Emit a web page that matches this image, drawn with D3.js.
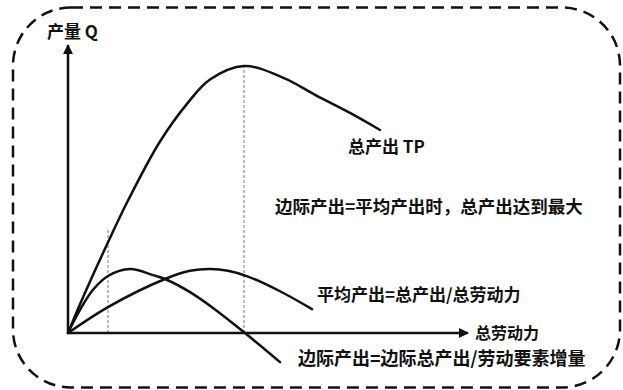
<!DOCTYPE html>
<html>
<head>
<meta charset="utf-8">
<script src="https://cdn.jsdelivr.net/npm/d3@7"></script>
<style>
  body { margin: 0; background: #fff; }
  text { font-family: "Noto Sans CJK SC", "Noto Sans", sans-serif; font-weight: bold; fill: #111; }
</style>
</head>
<body>
<svg id="chart"></svg>
<script>
	var svgWidth = 623;
	var svgHeight = 390;

	// 劳动投入 (x) 와 각 곡선 값 (y), 0~100 단위
	var tpLabor = [0, 3, 10, 15, 23, 30, 35.5, 44, 54, 62, 70.5, 78];
	var tpValue = [0, 10, 31.5, 46, 66.5, 80, 88, 92.7, 88.5, 82.5, 76.4, 70.5];

	var apLabor = [0, 10, 24.25, 30.5, 35.5, 40, 45, 53, 61];
	var apValue = [0, 9, 18.75, 21.6, 22.2, 21.6, 19.6, 14.5, 8.3];

	var mpLabor = [0, 3, 6.25, 10, 15.5, 21.25, 24.25, 30.5, 36.25, 44.25, 53];
	var mpValue = [0, 8, 15, 19.8, 22.2, 20.1, 18.75, 14.2, 8.7, 0, -10.1];

	// 보조 점선 (x 위치, 위쪽 끝 값)
	var guideLabor = [10, 44];
	var guideTop = [36.5, 92.7];

	var svg = d3.select("#chart")
		.attr("width", svgWidth)
		.attr("height", svgHeight);

	var xScale = d3.scaleLinear().domain([0, 100]).range([68, 468]);
	var yScale = d3.scaleLinear().domain([0, 100]).range([333, 45]);

	// 바깥 점선 테두리
	svg.append("rect")
		.attr("x", 13).attr("y", 7.5)
		.attr("width", 607).attr("height", 380)
		.attr("rx", 58).attr("ry", 58)
		.attr("fill", "none")
		.attr("stroke", "#111")
		.attr("stroke-width", 2.5)
		.attr("stroke-dasharray", "12,7");

	// 화살표
	var defs = svg.append("defs");
	defs.append("marker")
		.attr("id", "arrow")
		.attr("viewBox", "0 0 10 10")
		.attr("refX", 9).attr("refY", 5)
		.attr("markerWidth", 10).attr("markerHeight", 10)
		.attr("markerUnits", "userSpaceOnUse")
		.attr("orient", "auto")
		.append("path")
		.attr("d", "M0,0 L10,5 L0,10 Z")
		.attr("fill", "#111");

	// 보조 점선
	svg.selectAll(".guide")
		.data(guideLabor)
		.enter()
		.append("line")
		.attr("class", "guide")
		.attr("x1", function(d) { return xScale(d); })
		.attr("x2", function(d) { return xScale(d); })
		.attr("y1", yScale(0))
		.attr("y2", function(d, i) { return yScale(guideTop[i]); })
		.attr("stroke", "#777")
		.attr("stroke-width", 1)
		.attr("stroke-dasharray", "3,2");

	// 축
	svg.append("line")
		.attr("x1", xScale(0)).attr("y1", yScale(0))
		.attr("x2", xScale(0)).attr("y2", yScale(100))
		.attr("stroke", "#111").attr("stroke-width", 2.5)
		.attr("marker-end", "url(#arrow)");

	svg.append("line")
		.attr("x1", xScale(0)).attr("y1", yScale(0))
		.attr("x2", xScale(100)).attr("y2", yScale(0))
		.attr("stroke", "#111").attr("stroke-width", 2.5)
		.attr("marker-end", "url(#arrow)");

	var line = d3.line()
		.x(function(d) { return xScale(d[0]); })
		.y(function(d) { return yScale(d[1]); })
		.curve(d3.curveCatmullRom.alpha(0.5));

	var series = [
		d3.zip(tpLabor, tpValue),
		d3.zip(apLabor, apValue),
		d3.zip(mpLabor, mpValue)
	];

	svg.selectAll(".curve")
		.data(series)
		.enter()
		.append("path")
		.attr("class", "curve")
		.attr("d", line)
		.attr("fill", "none")
		.attr("stroke", "#111")
		.attr("stroke-width", 2.5)
		.attr("stroke-linecap", "round");

	// 라벨
	var labels = [
		{ text: "产量 Q", x: 47, y: 30, size: 17 },
		{ text: "总产出 TP", x: 348, y: 145, size: 17 },
		{ text: "边际产出=平均产出时，总产出达到最大", x: 275, y: 205, size: 17.5 },
		{ text: "平均产出=总产出/总劳动力", x: 317, y: 293, size: 17 },
		{ text: "总劳动力", x: 475, y: 332, size: 16 },
		{ text: "边际产出=边际总产出/劳动要素增量", x: 298, y: 357, size: 18 }
	];

	svg.selectAll(".label")
		.data(labels)
		.enter()
		.append("text")
		.attr("class", "label")
		.attr("x", function(d) { return d.x; })
		.attr("y", function(d) { return d.y; })
		.attr("dominant-baseline", "central")
		.attr("font-size", function(d) { return d.size + "px"; })
		.text(function(d) { return d.text; });
</script>
</body>
</html>
